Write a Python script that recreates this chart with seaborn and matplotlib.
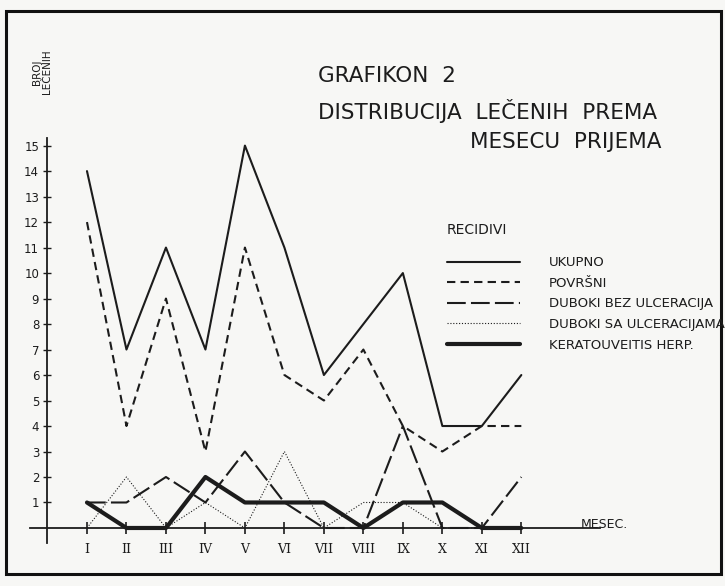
import matplotlib
matplotlib.use("Agg")
import matplotlib.pyplot as plt
import seaborn as sns
from matplotlib.patches import Rectangle

# broj lecenih recidiva po mesecu prijema
meseci = ["I", "II", "III", "IV", "V", "VI", "VII", "VIII", "IX", "X", "XI", "XII"]
ukupno = [14, 7, 11, 7, 15, 11, 6, 8, 10, 4, 4, 6]
povrsni = [12, 4, 9, 3, 11, 6, 5, 7, 4, 3, 4, 4]
duboki_bez = [1, 1, 2, 1, 3, 1, 0, 0, 4, 0, 0, 2]
duboki_sa = [0, 2, 0, 1, 0, 3, 0, 1, 1, 0, 0, 0]
keratouveitis = [1, 0, 0, 2, 1, 1, 1, 0, 1, 1, 0, 0]
y_ticks = list(range(1, 16))

sns.set_theme(style="white")
plt.rcParams["font.family"] = ["DejaVu Sans"]

ink = "#1c1c1c"
paper = "#f7f7f5"

fig = plt.figure(figsize=(7.25, 5.86), dpi=100, facecolor=paper)
ax = fig.add_axes([0.041, 0.0468, 0.787, 0.770])
ax.set_facecolor("none")

pos = list(range(len(meseci)))
serije = [
    ("UKUPNO", ukupno, dict(lw=1.5, linestyle="-")),
    ("POVRŠNI", povrsni, dict(lw=1.5, linestyle=(0, (4, 2.5)))),
    ("DUBOKI BEZ ULCERACIJA", duboki_bez, dict(lw=1.5, linestyle=(0, (9, 2.5)))),
    ("DUBOKI SA ULCERACIJAMA", duboki_sa, dict(lw=0.8, linestyle=(0, (1, 1.6)))),
    ("KERATOUVEITIS HERP.", keratouveitis, dict(lw=3.0, linestyle="-")),
]
for naziv, vrednosti, stil in serije:
    sns.lineplot(x=pos, y=vrednosti, ax=ax, color=ink, label=naziv, **stil)

ax.set_xlim(-1.45, 13.0)
ax.set_ylim(-1.2, 16.5)

for s in ["top", "right"]:
    ax.spines[s].set_visible(False)
ax.spines["bottom"].set_position(("data", 0))
ax.spines["left"].set_position(("data", -1))
ax.spines["left"].set_bounds(-0.6, 15.3)
for s in ["bottom", "left"]:
    ax.spines[s].set_color(ink)
    ax.spines[s].set_linewidth(1.3)

ax.set_xticks(pos)
ax.set_xticklabels(meseci, family="DejaVu Serif")
ax.set_yticks(y_ticks)
ax.set_yticklabels([str(v) for v in y_ticks])
ax.tick_params(axis="x", direction="inout", length=9, width=1.2, pad=6,
               labelsize=9, colors=ink, bottom=True)
ax.tick_params(axis="y", direction="inout", length=6, width=1.0, pad=3,
               labelsize=8.5, colors=ink, left=True)
ax.set_xlabel("")
ax.set_ylabel("")

ax.text(12.5, -0.1, "MESEC.", fontsize=9, color=ink, ha="left", va="bottom")

# oznaka y ose, pisana uspravno u gornjem levom uglu
fig.text(37 / 725, 1 - 72 / 586, "BROJ", rotation=90, fontsize=7.5,
         color=ink, ha="center", va="center")
fig.text(47 / 725, 1 - 72 / 586, "LEČENIH", rotation=90, fontsize=7.5,
         color=ink, ha="center", va="center")

# naslov
fig.text(318 / 725, 1 - 76 / 586, "GRAFIKON  2", fontsize=15.5, color=ink,
         ha="left", va="center")
fig.text(318 / 725, 1 - 111 / 586, "DISTRIBUCIJA  LEČENIH  PREMA",
         fontsize=15.5, color=ink, ha="left", va="center")
fig.text(470 / 725, 1 - 142 / 586, "MESECU  PRIJEMA", fontsize=15.5,
         color=ink, ha="left", va="center")

handles, labels = ax.get_legend_handles_labels()
ax.get_legend().remove()
leg = fig.legend(handles, labels, loc="upper left",
                 bbox_to_anchor=(447 / 725, 1 - 223 / 586),
                 borderaxespad=0, borderpad=0,
                 frameon=False, title="RECIDIVI", fontsize=9.5,
                 title_fontsize=10, handlelength=5.5, handletextpad=2.2,
                 labelspacing=0.57, alignment="left", labelcolor=ink)
leg.get_title().set_color(ink)
leg._legend_box.sep = 14

# okvir skenirane stranice
fig.add_artist(Rectangle((6 / 725, 1 - 574 / 586), 715 / 725, 563 / 586,
                         transform=fig.transFigure, fill=False, lw=2.2,
                         ec="#111111"))

fig.savefig("out.png", dpi=100, facecolor=paper)
